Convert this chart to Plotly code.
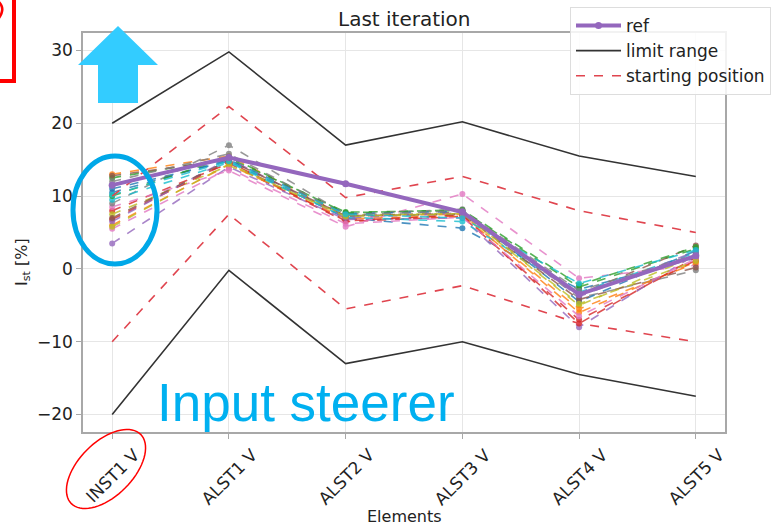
import plotly.graph_objects as go
import numpy as np

# ---------------- data ----------------
elements = ["INST1 V", "ALST1 V", "ALST2 V", "ALST3 V", "ALST4 V", "ALST5 V"]

ref = [11.5, 15.3, 11.7, 7.8, -3.5, 1.8]
limit_upper = [20.0, 29.8, 17.0, 20.2, 15.5, 12.7]
limit_lower = [-20.0, -0.2, -13.0, -10.0, -14.5, -17.5]
start_upper = [10.0, 22.3, 9.8, 12.7, 8.0, 5.0]
start_lower = [-10.0, 7.5, -5.5, -2.3, -7.5, -10.0]

iterations = [
    [11.0, 14.8, 7.0, 5.6, -2.8, 1.5],
    [13.0, 15.5, 7.3, 7.5, -6.0, 1.0],
    [12.5, 15.2, 7.8, 8.0, -2.5, 2.8],
    [8.0, 14.5, 6.5, 7.2, -7.0, 1.2],
    [3.5, 14.0, 6.8, 7.0, -8.0, 2.0],
    [12.8, 15.0, 7.2, 7.8, -3.5, 3.2],
    [8.5, 13.5, 5.8, 10.3, -1.3, 0.5],
    [9.0, 17.0, 7.5, 8.2, -4.0, -0.2],
    [7.5, 14.2, 7.4, 7.6, -5.0, 1.8],
    [9.5, 14.6, 7.1, 6.5, -3.2, 2.2],
    [10.5, 15.0, 7.6, 7.9, -4.5, 2.5],
    [6.0, 14.3, 6.9, 7.3, -5.5, 0.8],
    [10.0, 15.4, 7.7, 8.1, -2.2, 3.0],
    [6.8, 14.7, 6.6, 7.4, -7.5, 1.6],
    [6.5, 15.1, 7.0, 7.7, -3.8, 2.4],
    [7.0, 14.9, 7.3, 7.5, -4.2, 0.2],
    [5.5, 13.8, 6.2, 7.1, -6.5, 1.4],
    [12.0, 15.8, 7.4, 8.0, -3.0, 2.0],
    [5.8, 14.4, 7.2, 7.6, -4.8, 1.1],
    [10.2, 14.8, 7.5, 7.0, -2.0, 2.6],
]

yticks = [-20, -10, 0, 10, 20, 30]

tab10 = ["#1f77b4", "#ff7f0e", "#2ca02c", "#d62728", "#9467bd",
         "#8c564b", "#e377c2", "#7f7f7f", "#bcbd22", "#17becf"]

# ---------------- layout geometry ----------------
W, H = 777, 529
L, R, T, B = 83, 52, 33, 97
PW, PH = W - L - R, H - T - B

def px(x):
    return (x - L) / PW

def py(y):
    return (H - B - y) / PH

FONT = "DejaVu Sans"

fig = go.Figure()

for i, vals in enumerate(iterations):
    c = tab10[i % 10]
    fig.add_trace(go.Scatter(
        x=elements, y=vals, mode="lines+markers",
        line=dict(color=c, width=1.6, dash="dash"),
        marker=dict(color=c, size=6),
        opacity=0.8, showlegend=False, hoverinfo="skip"))

fig.add_trace(go.Scatter(
    x=elements, y=limit_upper, mode="lines", name="limit range",
    line=dict(color="#333333", width=1.6), legendgroup="lim", legendrank=2))
fig.add_trace(go.Scatter(
    x=elements, y=limit_lower, mode="lines", name="limit range",
    line=dict(color="#333333", width=1.6), legendgroup="lim", showlegend=False))
fig.add_trace(go.Scatter(
    x=elements, y=start_upper, mode="lines", name="starting position",
    line=dict(color="#e0454f", width=1.6, dash="dash"), legendgroup="start", legendrank=3))
fig.add_trace(go.Scatter(
    x=elements, y=start_lower, mode="lines", name="starting position",
    line=dict(color="#e0454f", width=1.6, dash="dash"), legendgroup="start", showlegend=False))
fig.add_trace(go.Scatter(
    x=elements, y=ref, mode="lines+markers", name="ref",
    line=dict(color="#9467bd", width=4), marker=dict(color="#9467bd", size=7),
    legendgroup="ref", legendrank=1))

shapes = []
# red box at top-left
shapes.append(dict(type="rect", xref="paper", yref="paper",
                   x0=px(-20), x1=px(14), y0=py(81), y1=py(-20),
                   line=dict(color="#ff0000", width=4), fillcolor="rgba(0,0,0,0)"))
# small red arc glyph at top-left corner
shapes.append(dict(type="path", xref="paper", yref="paper",
                   path=f"M {px(-2)} {py(1)} Q {px(6)} {py(8)} {px(-1)} {py(18)}",
                   line=dict(color="#ff0000", width=2.5)))
# blue arrow
arrow_pts = [(118, 26), (158, 65), (138, 65), (138, 103), (98, 103), (98, 65), (78, 65)]
path = "M " + " L ".join(f"{px(a)} {py(b)}" for a, b in arrow_pts) + " Z"
shapes.append(dict(type="path", xref="paper", yref="paper", path=path,
                   fillcolor="#33ccff", line=dict(width=0)))
# blue ellipse
shapes.append(dict(type="circle", xref="paper", yref="paper",
                   x0=px(73), x1=px(157), y0=py(264), y1=py(156),
                   line=dict(color="#00a8e8", width=5)))
# red rotated ellipse around first tick label
cx, cy, a, b = 106, 469, 49, 27
th = np.linspace(0, 2 * np.pi, 73)
ang = -np.pi / 4
ex = cx + a * np.cos(th) * np.cos(ang) - b * np.sin(th) * np.sin(ang)
ey = cy + a * np.cos(th) * np.sin(ang) + b * np.sin(th) * np.cos(ang)
epath = "M " + " L ".join(f"{px(u)} {py(v)}" for u, v in zip(ex, ey)) + " Z"
shapes.append(dict(type="path", xref="paper", yref="paper", path=epath,
                   line=dict(color="#ff0000", width=1.5)))

annotations = [
    dict(text="Input steerer", xref="paper", yref="paper", x=px(155), y=py(402),
         xanchor="left", yanchor="middle", showarrow=False,
         font=dict(family="Liberation Sans", size=53, color="#00b0f0")),
    dict(text="I<sub>st</sub> [%]", xref="paper", yref="paper", x=px(22), y=py(262),
         xanchor="center", yanchor="middle", showarrow=False, textangle=-90,
         font=dict(family=FONT, size=16, color="#222222")),
    dict(text="Last iteration", xref="paper", yref="paper", x=0.5, y=py(19),
         xanchor="center", yanchor="middle", showarrow=False,
         font=dict(family=FONT, size=20, color="#222222")),
    dict(text="Elements", xref="paper", yref="paper", x=0.5, y=py(516),
         xanchor="center", yanchor="middle", showarrow=False,
         font=dict(family=FONT, size=16, color="#222222")),
]
# x tick labels, centred on their ticks and rotated 45 degrees
for el in elements:
    annotations.append(dict(text=el, xref="x", yref="paper", x=el, y=py(442),
                            xanchor="center", yanchor="top", showarrow=False,
                            textangle=-45,
                            font=dict(family=FONT, size=17, color="#222222")))

fig.update_layout(
    width=W, height=H,
    margin=dict(l=L, r=R, t=T, b=B, autoexpand=False),
    paper_bgcolor="white", plot_bgcolor="white",
    font=dict(family=FONT, size=16, color="#222222"),
    shapes=shapes, annotations=annotations,
    legend=dict(x=px(570), y=py(7), xanchor="left", yanchor="top",
                bgcolor="rgba(255,255,255,0.85)", bordercolor="#dddddd", borderwidth=1,
                font=dict(family=FONT, size=17, color="#222222"),
                tracegroupgap=11, traceorder="normal", itemwidth=45),
    xaxis=dict(type="category", range=[-0.25, 5.25], showticklabels=False,
               showgrid=True, gridcolor="#e6e6e6", gridwidth=1,
               showline=True, linecolor="#a8a8a8", linewidth=1.5, mirror=True,
               ticks="outside", ticklen=5, tickcolor="#a8a8a8",
               automargin=False, zeroline=False),
    yaxis=dict(range=[-22.4, 32.4], tickvals=yticks,
               showgrid=True, gridcolor="#e6e6e6", gridwidth=1,
               showline=True, linecolor="#a8a8a8", linewidth=1.5, mirror=True,
               ticks="outside", ticklen=5, tickcolor="#a8a8a8",
               tickfont=dict(family=FONT, size=17, color="#222222"),
               automargin=False, zeroline=False),
)

fig.write_html("out.html", config={"displayModeBar": False},
               post_script="document.body.style.margin='0';document.body.style.overflow='hidden';")
